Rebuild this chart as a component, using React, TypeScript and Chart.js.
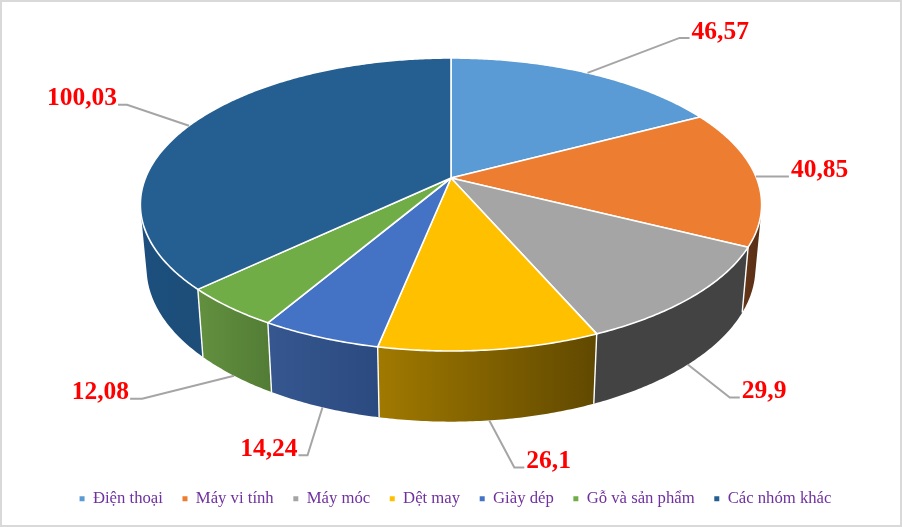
import React, { useEffect, useRef } from "react";
import { Chart, registerables, DoughnutController, ArcElement } from "chart.js";

const categories = ["Điện thoại", "Máy vi tính", "Máy móc", "Dệt may", "Giày dép", "Gỗ và sản phẩm", "Các nhóm khác"];
const values = [46.57, 40.85, 29.9, 26.1, 14.24, 12.08, 100.03];

const topColors = ["#5b9bd5", "#ed7d31", "#a5a5a5", "#ffc000", "#4472c4", "#70ad47", "#255e91"];
const wallLeft = ["#38618a", "#653619", "#434343", "#a07900", "#35568f", "#618f3e", "#1c4f7d"];
const wallRight = ["#2f5580", "#5c3015", "#434343", "#614900", "#2b4a80", "#527c35", "#1d4d78"];

// Perspective of the tilted disc
const VIEW = { cx: 451, cy: 178, halfW: 305.5, halfH: 141.7, k: 0.1809, rimScaleX: 0.98, rimScaleY: 1.05, depth: 62 };

// Leader line: from the slice's rim to an elbow, then a short tail to the label
const leaderDx = [92, 10, 42, 25, -15, -92, -62];
const leaderDy = [-35, 0, 33, 47, 48, 23, -21];
const leaderTail = [10, 23, 10, 10, -9, -12, -9];

function project(angle: number, lower: boolean) {
  const c = Math.cos(angle);
  const s = Math.sin(angle);
  const w = 1 - VIEW.k * s;
  const x = (VIEW.halfW * c) / w;
  const y = (VIEW.halfH * s) / w;
  if (!lower) return { x: VIEW.cx + x, y: VIEW.cy + y };
  return { x: VIEW.cx + x * VIEW.rimScaleX, y: VIEW.cy + y * VIEW.rimScaleY + VIEW.depth };
}

function traceRim(ctx: CanvasRenderingContext2D, from: number, to: number, lower: boolean) {
  const n = Math.max(2, Math.ceil(Math.abs(to - from) / 0.01));
  for (let i = 0; i <= n; i++) {
    const p = project(from + ((to - from) * i) / n, lower);
    ctx.lineTo(p.x, p.y);
  }
}

class Arc3D extends ArcElement {
  static id = "arc3d";
  draw(ctx: CanvasRenderingContext2D) {
    const { startAngle, endAngle } = this as any;
    ctx.save();
    ctx.beginPath();
    ctx.moveTo(VIEW.cx, VIEW.cy);
    traceRim(ctx, startAngle, endAngle, false);
    ctx.closePath();
    ctx.fillStyle = (this as any).options.backgroundColor;
    ctx.fill();
    ctx.strokeStyle = "#ffffff";
    ctx.lineWidth = 1.6;
    ctx.lineJoin = "round";
    ctx.stroke();
    ctx.restore();
  }
}

function drawWall(ctx: CanvasRenderingContext2D, arc: any, i: number) {
  const { startAngle, endAngle } = arc;
  const n = Math.max(2, Math.ceil((endAngle - startAngle) / 0.01));
  let minX = Infinity;
  let maxX = -Infinity;
  for (let j = 0; j <= n; j++) {
    const a = startAngle + ((endAngle - startAngle) * j) / n;
    if (Math.sin(a) > 0) {
      const p = project(a, true);
      minX = Math.min(minX, p.x);
      maxX = Math.max(maxX, p.x);
    }
  }
  if (minX === Infinity) return;
  const g = ctx.createLinearGradient(minX, 0, maxX, 0);
  g.addColorStop(0, wallLeft[i]);
  g.addColorStop(1, wallRight[i]);
  ctx.save();
  ctx.fillStyle = g;
  // The wall is one path of small quads of equal winding, so it fills as a union
  ctx.beginPath();
  for (let j = 0; j < n; j++) {
    const a0 = startAngle + ((endAngle - startAngle) * j) / n;
    const a1 = startAngle + ((endAngle - startAngle) * (j + 1)) / n;
    const q = [project(a0, false), project(a1, false), project(a1, true), project(a0, true)];
    let area = 0;
    q.forEach((p, m) => {
      const r = q[(m + 1) % 4];
      area += p.x * r.y - r.x * p.y;
    });
    const pts = area < 0 ? q.slice().reverse() : q;
    ctx.moveTo(pts[0].x, pts[0].y);
    ctx.lineTo(pts[1].x, pts[1].y);
    ctx.lineTo(pts[2].x, pts[2].y);
    ctx.lineTo(pts[3].x, pts[3].y);
    ctx.closePath();
  }
  ctx.fill("nonzero");
  ctx.restore();
}

function drawSeam(ctx: CanvasRenderingContext2D, angle: number) {
  const u = project(angle, false);
  const l = project(angle, true);
  ctx.save();
  ctx.beginPath();
  ctx.moveTo(u.x, u.y);
  ctx.lineTo(l.x, l.y);
  ctx.strokeStyle = "#ffffff";
  ctx.lineWidth = 1.4;
  ctx.stroke();
  ctx.restore();
}

class Pie3D extends DoughnutController {
  static id = "pie3d";
  static defaults = { dataElementType: "arc3d" };
  draw() {
    const ctx = this.chart.ctx as CanvasRenderingContext2D;
    const arcs = this.getMeta().data as any[];
    arcs.forEach((arc, i) => drawWall(ctx, arc, i));
    arcs.forEach((arc) => drawSeam(ctx, arc.startAngle));
    super.draw();
  }
}

const framePlugin = {
  id: "frame",
  beforeDraw(chart: any) {
    const { ctx, width, height } = chart;
    ctx.save();
    ctx.fillStyle = "#ffffff";
    ctx.fillRect(0, 0, width, height);
    ctx.strokeStyle = "#d9d9d9";
    ctx.lineWidth = 2;
    ctx.strokeRect(1, 1, width - 2, height - 2);
    ctx.restore();
  },
};

const labelPlugin = {
  id: "leaderLabels",
  afterDatasetsDraw(chart: any) {
    const { ctx } = chart;
    const arcs = chart.getDatasetMeta(0).data as any[];
    ctx.save();
    arcs.forEach((arc, i) => {
      const mid = (arc.startAngle + arc.endAngle) / 2;
      const start = project(mid, Math.sin(mid) > 0.3);
      const ex = start.x + leaderDx[i];
      const ey = start.y + leaderDy[i];
      const tx = ex + leaderTail[i];
      ctx.beginPath();
      ctx.moveTo(start.x, start.y);
      ctx.lineTo(ex, ey);
      ctx.lineTo(tx, ey);
      ctx.strokeStyle = "#a5a5a5";
      ctx.lineWidth = 2;
      ctx.stroke();
      ctx.fillStyle = "#ff0000";
      ctx.font = 'bold 25.5px "Liberation Serif"';
      ctx.textBaseline = "middle";
      ctx.textAlign = leaderTail[i] > 0 ? "left" : "right";
      ctx.fillText(String(values[i]).replace(".", ","), tx + (leaderTail[i] > 0 ? 2 : -1), ey - 6);
    });
    ctx.restore();
  },
};

Chart.register(...registerables, Arc3D, Pie3D);

export default function App() {
  const ref = useRef<HTMLCanvasElement>(null);
  useEffect(() => {
    document.body.style.margin = "0";
    const chart = new Chart(ref.current!, {
      type: "pie3d" as any,
      data: {
        labels: categories,
        datasets: [{ data: values, backgroundColor: topColors, borderWidth: 0 }],
      },
      options: {
        responsive: false,
        animation: false,
        layout: { padding: { left: 9, bottom: 10 } },
        plugins: {
          tooltip: { enabled: false },
          legend: {
            position: "bottom",
            labels: {
              boxWidth: 5,
              boxHeight: 5,
              padding: 19.6,
              color: "#7030a0",
              font: { family: '"Liberation Serif"', size: 16.7 },
            },
          },
        },
      } as any,
      plugins: [framePlugin, labelPlugin],
    });
    return () => chart.destroy();
  }, []);
  return <canvas ref={ref} width={902} height={527} style={{ display: "block" }} />;
}
